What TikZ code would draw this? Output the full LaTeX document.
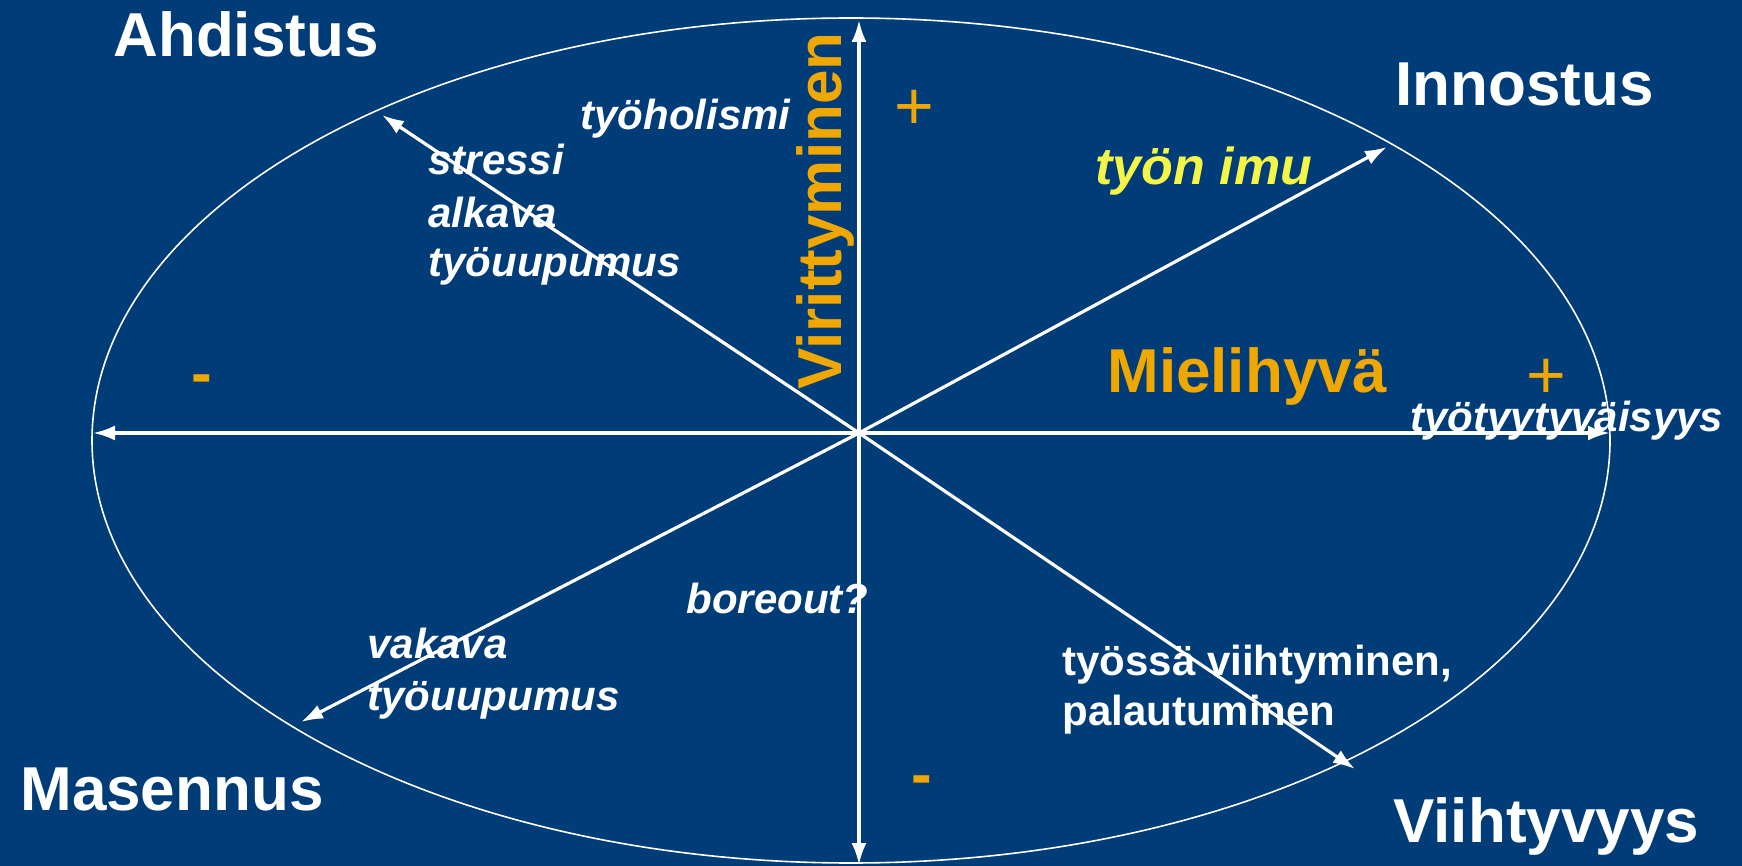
\documentclass[tikz,border=0pt]{standalone}
\usepackage{fontspec}
\setmainfont{Liberation Sans}
\usepackage{tikz}
\usetikzlibrary{arrows.meta,positioning}
\definecolor{bgblue}{RGB}{0,60,120}
\definecolor{orng}{RGB}{240,168,0}
\definecolor{ylw}{RGB}{245,245,72}
\tikzset{>={Latex[length=11pt,width=7.5pt]}}
\tikzset{
  corner/.style={anchor=base west, inner sep=0pt, text=white,
    font=\fontsize{31}{36}\selectfont\bfseries},
  axislbl/.style={corner, text=orng},
  note/.style={anchor=base west, inner sep=0pt, text=white,
    font=\fontsize{21}{25}\selectfont\bfseries\itshape},
  plain/.style={note, font=\fontsize{21}{25}\selectfont\bfseries},
  sign/.style={anchor=base, inner sep=0pt, text=orng},
  axis/.style={->, white, line width=1.6pt}
}

\begin{document}
\begin{tikzpicture}[x=0.5pt, y=-0.5pt]
  \fill[bgblue] (0,0) rectangle (1742,866);
  \useasboundingbox (0,0) rectangle (1742,866);
  \draw[white, line width=0.8pt] (851,440.5) ellipse [x radius=759, y radius=422.5];

  % ends of the eight arrows
  \coordinate (o) at (859,433);
  \coordinate (e) at (1610,433);
  \coordinate (w) at (93,433);
  \coordinate (n) at (859,20);
  \coordinate (s) at (859,865);
  \coordinate (ne) at (1387,147);
  \coordinate (nw) at (382,115);
  \coordinate (sw) at (301,722);
  \coordinate (se) at (1355,769);
  \foreach \d in {e,w,n,s,ne,nw,sw,se}
    \draw[axis] (o) -- (\d);

  \node[corner] (ahd) at (113,57) {Ahdistus};
  \node[corner] (inn) at (1395,106) {Innostus};
  \node[corner] (mas) at (20,810) {Masennus};
  \node[corner] (vii) at (1393,842) {Viihtyvyys};
  \node[axislbl] (mieli) at (1107,393) {Mielihyvä};
  \node[axislbl, rotate=90] (vir) at (841,390) {Virittyminen};

  \node[note, text=ylw, font=\fontsize{26}{30}\selectfont\bfseries\itshape] (imu) at (1095,185) {työn imu};
  \node[note] (tyyt) at (1410,432) {työtyytyväisyys};
  \node[note] (hol) at (580,130) {työholismi};
  \node[note] (stre) at (428,175) {stressi};
  \node[note] (alk) at (428,228) {alkava};
  \node[note] (uup) at (428,277) {työuupumus};
  \node[note] (bore) at (686,613) {boreout?};
  \node[note] (vak) at (367,658) {vakava};
  \node[note] (vuup) at (367,710) {työuupumus};
  \node[plain] (viiht) at (1062,675) {työssä viihtyminen,};
  \node[plain] (pal) at (1062,725) {palautuminen};

  \node[sign, font=\fontsize{34}{40}\selectfont] (ptop) at (914,130) {+};
  \node[sign, font=\fontsize{34}{40}\selectfont] (pright) at (1546,399) {+};
  \node[sign, font=\fontsize{31}{36}\selectfont\bfseries] (mleft) at (202,395) {-};
  \node[sign, font=\fontsize{31}{36}\selectfont\bfseries] (mbot) at (922,795) {-};
\end{tikzpicture}
\end{document}
